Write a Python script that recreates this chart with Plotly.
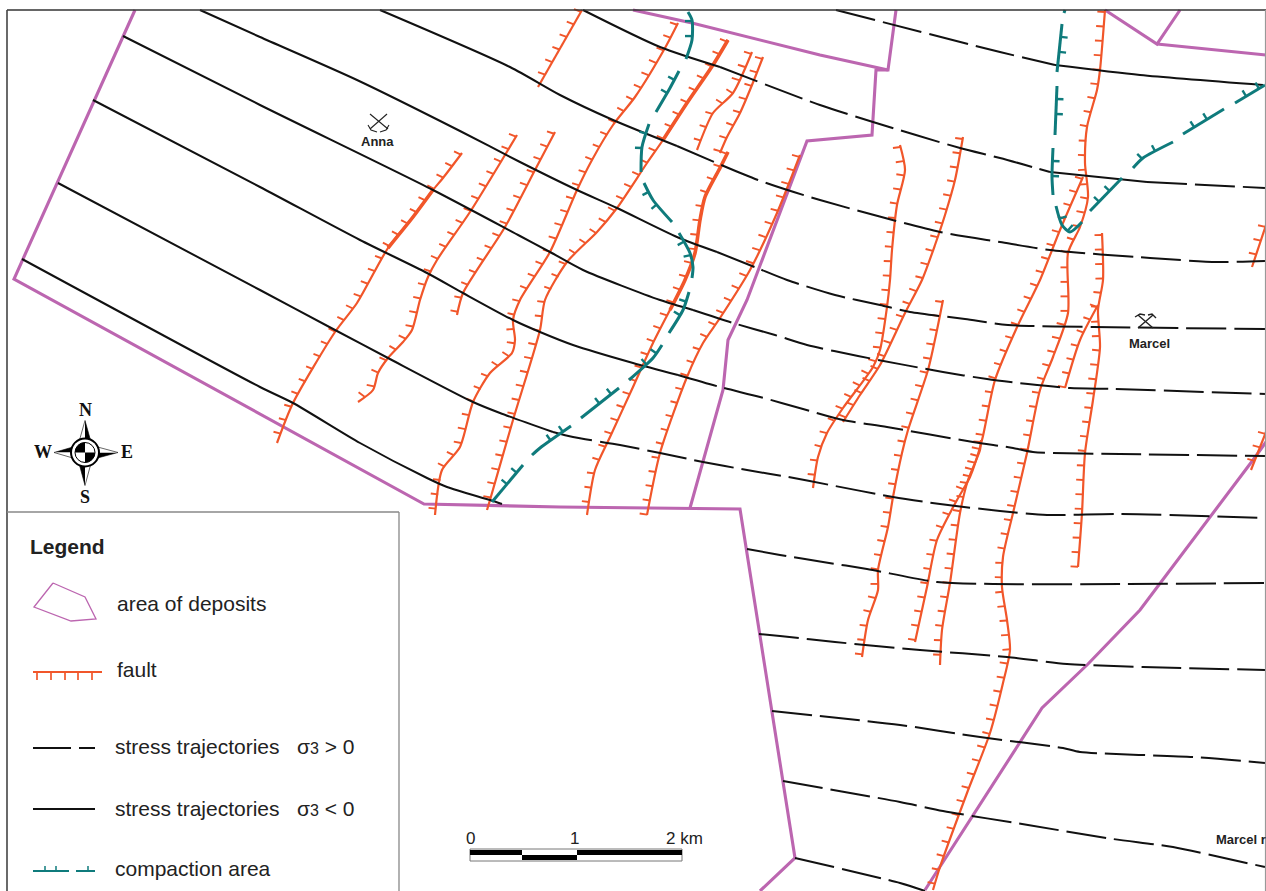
import math
import plotly.graph_objects as go

# ---- deposit boundary (pink) ----
deposit_main = [(135,10),(14,279),(424,504),(560,507),(740,509),(795,858),(760,891)]
deposit_inner = [(690,508),(723,390),(728,340),(747,300),(807,141),(872,135),(876,70),(888,70),(896,10)]
deposit_north = [(633,10),(692,23),(820,55),(888,70)]
deposit_ne_a = [(1105,10),(1157,44),(1180,10)]
deposit_ne_b = [(1157,44),(1266,55)]
deposit_se = [(925,890),(1020,743),(1042,708),(1088,664),(1140,610),(1253,460),(1266,442)]

# ---- stress trajectories: solid part, then dashed part ----
stress_solid = [
    [(583,10),(660,47),(720,67)],
    [(1050,172),(1147,182)],
    [(1055,65),(1140,75),(1263,85)],
    [(380,10),(510,67),(560,95),(613,120),(677,146)],
    [(200,10),(260,37),(357,80),(460,131),(520,162),(577,190),(617,208),(677,237),(717,252)],
    [(123,36),(260,105),(433,190),(520,236),(550,252),(583,270),(660,300),(693,310)],
    [(93,100),(260,187),(360,240),(427,273),(463,293),(513,320),(540,332),(573,345),(633,363),(678,375)],
    [(58,183),(260,290),(335,330),(388,358),(473,402),(500,413),(553,432)],
    [(22,259),(260,387),(293,403),(360,443),(427,478),(447,487),(490,500),(502,504)],
]
stress_dashed = [
    [(720,67),(820,105),(873,122),(960,148),(1000,158),(1050,172)],
    [(1147,182),(1265,188)],
    [(836,10),(1000,52),(1055,65)],
    [(677,146),(758,180),(820,200),(940,232),(1000,242),(1050,250),(1150,258),(1217,262),(1265,261)],
    [(717,252),(757,268),(787,280),(835,295),(880,305),(910,312),(965,319),(1008,325),(1093,327),(1265,329)],
    [(693,310),(733,323),(775,335),(807,345),(858,356),(943,372),(987,379),(1028,384),(1070,388),(1115,389),(1266,394)],
    [(678,375),(720,387),(760,397),(803,409),(843,420),(887,427),(973,442),(1013,448),(1033,452),(1120,454),(1266,456)],
    [(553,432),(573,437),(620,445),(660,453),(703,462),(747,470),(788,477),(830,485),(893,497),(940,504),(1000,511),(1047,515),(1120,514),(1266,518)],
    [(747,549),(780,555),(823,562),(867,569),(937,582),(993,584),(1120,584),(1266,583)],
    [(759,634),(780,636),(835,642),(920,650),(1007,657),(1067,664),(1143,667),(1265,670)],
    [(772,711),(900,725),(980,737),(1063,748),(1080,752),(1193,757),(1265,763)],
    [(783,781),(900,802),(943,811),(1028,825),(1113,839),(1173,847),(1242,862),(1265,867)],
    [(795,858),(900,883),(925,891)],
]

# ---- faults (orange) ----
fault_paths = [
    [(462,153),(443,178),(433,190),(413,217),(388,248),(357,303),(335,332),(293,403),(277,443)],
    [(517,135),(505,155),(470,212),(437,260),(428,277),(420,300),(412,330),(403,342),(388,358),(378,373),(373,390),(358,402)],
    [(555,132),(535,170),(505,227),(463,293),(457,315)],
    [(678,23),(665,48),(635,97),(613,125),(592,160),(577,190),(550,252),(520,300),(513,320),(515,340),(512,353),(490,373),(473,402),(460,447),(442,470),(435,515)],
    [(728,40),(713,65),(687,103),(663,140),(647,163),(617,208),(597,232),(567,262),(545,300),(540,330),(513,420),(490,500),(487,510)],
    [(582,10),(538,87)],
    [(752,52),(733,93),(713,113),(697,150)],
    [(763,57),(752,85),(740,113),(727,137),(720,153)],
    [(728,152),(720,168),(705,197),(700,220),(695,253),(685,280),(653,343),(633,387),(610,437),(595,470),(587,515)],
    [(800,155),(777,213),(750,270),(720,318),(703,343),(687,377),(660,453),(647,515)],
    [(900,145),(905,170),(897,205),(892,250),(890,280),(887,307),(880,350),(873,367),(843,408),(827,433),(818,457),(813,488)],
    [(963,137),(955,180),(945,215),(935,245),(922,280),(905,313),(880,365),(860,395),(843,422)],
    [(943,300),(937,330),(928,370),(908,430),(902,453),(893,497),(888,527),(878,570),(878,590),(868,620),(862,657)],
    [(1083,177),(1060,230),(1040,280),(1018,325),(995,380),(982,440),(970,477),(957,500),(937,540),(927,587),(915,642)],
    [(981,440),(980,450),(968,480),(960,513),(950,583),(942,630),(940,665)],
    [(1105,10),(1100,70),(1097,90),(1087,127),(1085,163),(1088,197),(1080,227),(1068,253),(1068,313),(1053,357),(1040,390),(1027,453),(1013,513),(1003,557),(1002,587),(1007,620),(1010,650),(1003,683),(990,733),(967,793),(940,867),(933,890)],
    [(1102,233),(1103,280),(1098,310),(1100,347),(1093,400),(1085,453),(1082,513),(1078,567)],
    [(1098,305),(1080,340),(1065,388)],
    [(1266,225),(1252,267)],
    [(1266,432),(1251,470)],
]
fault_thick = [
    [(433,190),(413,217),(388,248)],
    [(728,40),(713,65),(687,103),(663,140)],
    [(728,152),(720,168),(705,197),(700,220),(695,253),(685,280),(670,310)],
]

# ---- compaction area (teal dashes, north to south) ----
compaction_west = [
    [(688,12),(692,20),(692,40),(686,59)],
    [(679,71),(670,88),(656,112)],
    [(649,124),(642,147),(641,172)],
    [(644,183),(653,200),(672,222)],
    [(679,233),(690,253),(693,267),(692,278)],
    [(689,292),(683,310),(669,333)],
    [(662,345),(653,358),(629,380)],
    [(619,388),(581,418)],
    [(571,426),(540,448),(532,455)],
    [(523,465),(492,502)],
]
compaction_east = [
    [(1062,24),(1057,72)],
    [(1057,86),(1055,135)],
    [(1053,148),(1052,177),(1053,195)],
    [(1056,206),(1062,225),(1070,232),(1082,222)],
    [(1090,211),(1122,178)],
    [(1133,168),(1143,158),(1173,142)],
    [(1183,134),(1224,109)],
    [(1235,103),(1265,85)],
]
compaction_east_dot = [(1065,10),(1064,13)]

labels_legend = ["area of deposits", "fault", "stress trajectories", "stress trajectories", "compaction area"]
PINK, ORANGE, TEAL, BLACK = "#BC66B0", "#F1562A", "#0F7B7C", "#111111"


def join(paths):
    xs, ys = [], []
    for p in paths:
        xs += [q[0] for q in p] + [None]
        ys += [q[1] for q in p] + [None]
    return xs, ys


def tick_marks(paths, spacing, length, side, start, tilt=0.0, limit=None):
    xs, ys = [], []
    for p in paths:
        nxt = start
        run = 0.0
        count = 0
        for (x0, y0), (x1, y1) in zip(p, p[1:]):
            seg = math.hypot(x1 - x0, y1 - y0)
            dx, dy = (x1 - x0) / seg, (y1 - y0) / seg
            while nxt <= run + seg and (limit is None or count < limit):
                t = nxt - run
                bx, by = x0 + dx * t, y0 + dy * t
                nx, ny = -dy * side - tilt, dx * side
                m = math.hypot(nx, ny)
                xs += [bx, bx + nx / m * length, None]
                ys += [by, by + ny / m * length, None]
                nxt += spacing
                count += 1
            run += seg
    return xs, ys


fig = go.Figure()


def add_line(xs, ys, color, width, dash=None, smooth=False):
    line = dict(color=color, width=width, dash=dash, shape="spline" if smooth else "linear")
    if smooth:
        line["smoothing"] = 0.7
    fig.add_trace(go.Scatter(x=xs, y=ys, mode="lines", hoverinfo="skip", showlegend=False, line=line))


def add_fill(pts, fill, line="#000000", width=0.6):
    fig.add_trace(go.Scatter(x=[p[0] for p in pts], y=[p[1] for p in pts], mode="lines", fill="toself",
                             fillcolor=fill, hoverinfo="skip", showlegend=False,
                             line=dict(color=line, width=width)))


# deposits
add_line(*join([deposit_main, deposit_inner, deposit_north, deposit_ne_a, deposit_ne_b, deposit_se]), PINK, 3.1)
# faults
add_line(*join(fault_paths), ORANGE, 2.2, smooth=True)
add_line(*join(fault_thick), ORANGE, 3.6, smooth=True)
add_line(*tick_marks(fault_paths, 14.5, 7.5, 1, 2, tilt=0.45), ORANGE, 1.9)
# stress
add_line(*join(stress_solid), BLACK, 2.0, smooth=True)
for d in stress_dashed:
    add_line(*join([d]), BLACK, 2.0, dash="40px,8px", smooth=True)
# compaction
add_line(*join(compaction_west + compaction_east + [compaction_east_dot]), TEAL, 3, smooth=True)
add_line(*tick_marks(compaction_west, 15, 7, 1, 10, limit=2), TEAL, 2.4)
add_line(*tick_marks(compaction_east, 15, 7, -1, 13, limit=2), TEAL, 2.4)

# compass arms (half black, half white)
cx, cy = 85, 452.5
arm_n, arm_s, arm_w, arm_e = 32, 33, 31, 33
w = 7
add_fill([(cx, cy - arm_n), (cx + w, cy - w), (cx, cy)], "#000000")
add_fill([(cx, cy - arm_n), (cx - w, cy - w), (cx, cy)], "#ffffff")
add_fill([(cx + arm_e, cy), (cx + w, cy + w), (cx, cy)], "#000000")
add_fill([(cx + arm_e, cy), (cx + w, cy - w), (cx, cy)], "#ffffff")
add_fill([(cx, cy + arm_s), (cx - w, cy + w), (cx, cy)], "#000000")
add_fill([(cx, cy + arm_s), (cx + w, cy + w), (cx, cy)], "#ffffff")
add_fill([(cx - arm_w, cy), (cx - w, cy - w), (cx, cy)], "#000000")
add_fill([(cx - arm_w, cy), (cx - w, cy + w), (cx, cy)], "#ffffff")

# mine icons
anna_hammers = [[(370,114),(388,129)], [(387,114),(370,129)], [(368,125),(371,130),(377,132)], [(389,125),(386,130),(380,132)]]
marcel_hammers = [[(1138,315),(1153,328)], [(1153,315),(1138,328)], [(1135,317),(1140,314),(1145,315)], [(1148,315),(1152,314),(1156,318)]]
add_line(*join(anna_hammers), "#222222", 1.1)
add_line(*join(marcel_hammers), "#222222", 1.4)

# legend symbols
legend_polygon = [(53,583),(85,597),(96,619),(71,621),(34,607),(53,583)]
add_line(*join([legend_polygon]), PINK, 1.3)
add_line(*join([[(33,672),(102,672)]]), ORANGE, 2.2)
add_line(*join([[(x,672),(x,680)] for x in (37,51,65,78,92)]), ORANGE, 1.7)
add_line(*join([[(33,748),(71,748)], [(79,748),(95,748)]]), BLACK, 2)
add_line(*join([[(33,809),(95,809)]]), BLACK, 2)
add_line(*join([[(33,871),(69,871)], [(76,871),(95,871)]]), TEAL, 2)
add_line(*join([[(x,871),(x,866)] for x in (45,56,88)]), TEAL, 1.5)


def quadrant(a0, r=10):
    pts = [f"M {cx},{cy}"]
    for i in range(13):
        a = math.radians(a0 + i * 7.5)
        pts.append(f"L {cx + r * math.cos(a):.2f},{cy + r * math.sin(a):.2f}")
    return " ".join(pts) + " Z"


shapes = [
    # map frame
    dict(type="line", x0=7, y0=10, x1=1266, y1=10, line=dict(color="#333333", width=1.6)),
    dict(type="line", x0=7, y0=10, x1=7, y1=891, line=dict(color="#444444", width=1.6)),
    dict(type="line", x0=1265.5, y0=10, x1=1265.5, y1=891, line=dict(color="#999999", width=1.2)),
    # legend frame
    dict(type="line", x0=7, y0=512, x1=399, y1=512, line=dict(color="#888888", width=1.3)),
    dict(type="line", x0=399, y0=512, x1=399, y1=891, line=dict(color="#888888", width=1.3)),
    # compass rose
    dict(type="circle", x0=cx-15, y0=cy-15, x1=cx+15, y1=cy+15, fillcolor="#000000", line=dict(width=0)),
    dict(type="circle", x0=cx-13, y0=cy-13, x1=cx+13, y1=cy+13, fillcolor="#ffffff", line=dict(width=0)),
    dict(type="circle", x0=cx-10, y0=cy-10, x1=cx+10, y1=cy+10, fillcolor="#ffffff", line=dict(color="#000000", width=1)),
    dict(type="path", path=quadrant(180), fillcolor="#000000", line=dict(width=0)),
    dict(type="path", path=quadrant(0), fillcolor="#000000", line=dict(width=0)),
    # scale bar
    dict(type="rect", x0=470, y0=849, x1=682, y1=861, fillcolor="#ffffff", line=dict(color="#777777", width=1)),
    dict(type="rect", x0=470, y0=850, x1=522, y1=855, fillcolor="#000000", line=dict(width=0)),
    dict(type="rect", x0=522, y0=855, x1=577, y1=860, fillcolor="#000000", line=dict(width=0)),
    dict(type="rect", x0=577, y0=850, x1=682, y1=855, fillcolor="#000000", line=dict(width=0)),
]


def text(x, y, s, size=21, bold=False, anchor="left", family="Liberation Sans", color="#222222"):
    fig.add_annotation(x=x, y=y, xref="x", yref="y", text=f"<b>{s}</b>" if bold else s, showarrow=False,
                       xanchor=anchor, yanchor="middle", borderpad=0, borderwidth=0,
                       font=dict(family=family, size=size, color=color))


text(30, 546, "Legend", bold=True)
text(117, 603, labels_legend[0])
text(117, 669, labels_legend[1])
text(115, 746, labels_legend[2])
text(115, 808, labels_legend[3])
text(115, 868, labels_legend[4])
sub = "<span style='font-size:16px'>3</span>"
text(297, 746, f"σ{sub} &gt; 0")
text(297, 808, f"σ{sub} &lt; 0")
for lx, ly, ls in [(85, 410, "N"), (85, 497, "S"), (43, 452, "W"), (127, 452, "E")]:
    text(lx, ly, ls, size=18, bold=True, anchor="center", family="Liberation Serif", color="#111111")
text(377, 141, "Anna", size=13, bold=True, anchor="center")
text(1149, 343, "Marcel", size=13, bold=True, anchor="center")
text(1216, 839, "Marcel r", size=13, bold=True)
text(470, 838, "0", size=17, anchor="center")
text(574, 838, "1", size=17, anchor="center")
text(666, 838, "2 km", size=17)

fig.update_layout(
    width=1266, height=891, margin=dict(l=0, r=0, t=0, b=0),
    paper_bgcolor="#ffffff", plot_bgcolor="#ffffff", showlegend=False, shapes=shapes,
    xaxis=dict(range=[0, 1266], visible=False, fixedrange=True),
    yaxis=dict(range=[891, 0], visible=False, fixedrange=True),
)
fig.write_html("out.html", config=dict(displayModeBar=False),
               post_script="document.body.style.margin='0';document.body.style.overflow='hidden';")
